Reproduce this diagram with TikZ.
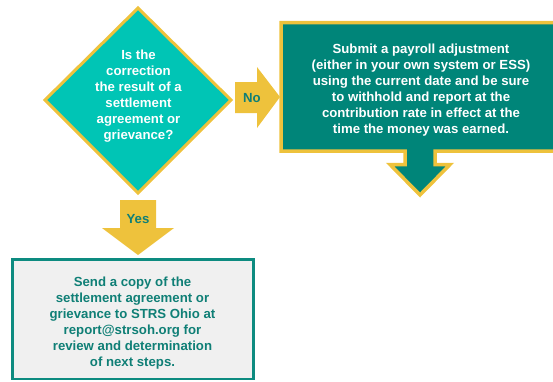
\documentclass[tikz,border=0pt]{standalone}
\usepackage{fontspec}
\setmainfont{Liberation Sans}
\definecolor{ylw}{HTML}{EEC23C}
\definecolor{brightteal}{HTML}{00C5B5}
\definecolor{darkteal}{HTML}{008579}
\definecolor{txtteal}{HTML}{0F7F76}
\definecolor{boxline}{HTML}{0D8B80}
\definecolor{boxfill}{HTML}{F0F0F0}
\begin{document}
\begin{tikzpicture}[x=1pt,y=-1pt,
  lbl/.style={font=\bfseries\fontsize{13.2}{16}\selectfont, align=center, inner sep=0pt},
  arrowshape/.style={fill=ylw, draw=none}]
\useasboundingbox (0,0) rectangle (553,381);
\clip (0,0) rectangle (553,381);

% decision diamond
\draw[fill=brightteal, draw=ylw, line width=3pt, line join=miter]
  (138,8) -- (231,100) -- (138,193) -- (45,100) -- cycle;
\node[lbl, text=white] (q) at (138.5,96) {Is the\\correction\\the result of a\\settlement\\agreement or\\grievance?};

% No arrow
\fill[ylw] (235,82) -- (257,82) -- (257,67) -- (280,97) -- (257,128) -- (257,113) -- (235,113) -- cycle;
\node[lbl, text=txtteal] (no) at (252,98) {No};

% right box with its down arrow
\draw[fill=darkteal, draw=ylw, line width=3.5pt, line join=miter]
  (281,22.5) -- (570,22.5) -- (570,151) -- (435,151) -- (435,164.5) -- (450,164.5)
  -- (420,195) -- (390,164.5) -- (405,164.5) -- (405,151) -- (281,151) -- cycle;
\node[lbl, text=white] (sub) at (421,90.5) {Submit a payroll adjustment\\(either in your own system or ESS)\\using the current date and be sure\\to withhold and report at the\\contribution rate in effect at the\\time the money was earned.};

% Yes arrow
\fill[ylw] (120,200) -- (156,200) -- (156,228) -- (174,228) -- (138,255) -- (102,228) -- (120,228) -- cycle;
\node[lbl, text=txtteal] (yes) at (138,219) {Yes};

% bottom box
\draw[fill=boxfill, draw=boxline, line width=2.5pt] (12.5,259.5) rectangle (253.5,379);
\node[lbl, text=txtteal] (send) at (132.5,323) {Send a copy of the\\settlement agreement or\\grievance to STRS Ohio at\\report@strsoh.org for\\review and determination\\of next steps.};
\end{tikzpicture}
\end{document}
